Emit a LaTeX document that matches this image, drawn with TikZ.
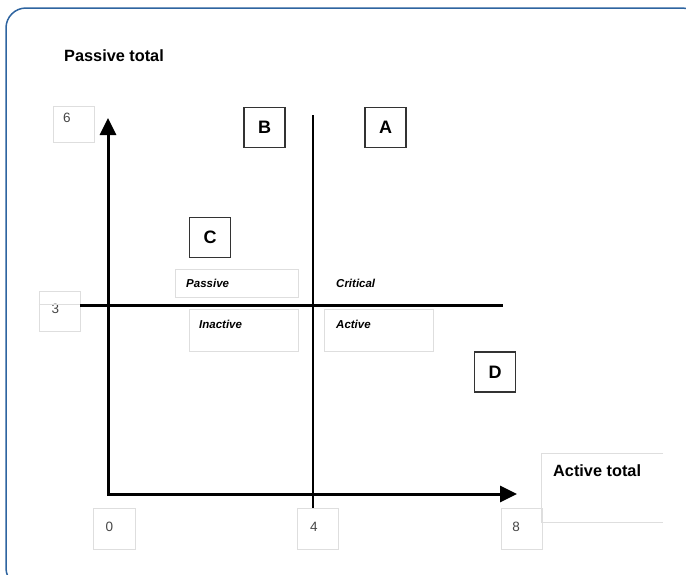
\documentclass[tikz,border=0pt]{standalone}
\usepackage{fontspec}
\setmainfont{Liberation Sans}
\usetikzlibrary{arrows.meta}
\definecolor{framecol}{RGB}{46,100,160}
\definecolor{boxgray}{RGB}{222,222,222}
\definecolor{numgray}{RGB}{70,70,70}
\begin{document}
\begin{tikzpicture}[x=1pt,y=-1pt,
  letterbox/.style={draw=black!80, line width=1.5pt, minimum width=41pt, minimum height=40pt, inner sep=0pt, font=\fontsize{18}{18}\selectfont\bfseries},
  lightbox/.style={draw=boxgray, line width=1pt, inner sep=0pt},
  numtext/.style={font=\fontsize{13.5}{13.5}\selectfont, text=numgray, inner sep=0pt},
  smalltext/.style={font=\fontsize{11.5}{11.5}\selectfont\bfseries\itshape, inner sep=0pt, anchor=west},
  titletext/.style={font=\fontsize{16.3}{16.3}\selectfont\bfseries, inner sep=0pt, anchor=west},
  axisline/.style={line width=3pt, line join=miter, {Triangle[length=17pt,width=16pt]}-{Triangle[length=17pt,width=16pt]}},
  divider/.style={line width=3pt},
]
\useasboundingbox (0,0) rectangle (686,574);
\clip (0,0) rectangle (686,574);
\fill[white] (0,0) rectangle (686,574);
% frame
\draw[framecol, line width=1.5pt, rounded corners=20pt] (6,8) rectangle (702,588);

% titles
\node[titletext] (ptot) at (64,56) {Passive total};

% number boxes
\node[lightbox, minimum width=41pt, minimum height=36pt] (b6) at (73.5,124) {};
\node[lightbox, minimum width=41pt, minimum height=40pt] (b3) at (59.5,311) {};
\node[lightbox, minimum width=42pt, minimum height=41pt] (b0) at (114,528.5) {};
\node[lightbox, minimum width=41pt, minimum height=41pt] (b4) at (317.5,528.5) {};
\node[lightbox, minimum width=41pt, minimum height=41pt] (b8) at (521.5,528.5) {};
\node[numtext] (t6) at (67,118) {6};
\node[numtext] (t3) at (55.5,309) {3};
\node[numtext] (t0) at (109.5,527) {0};
\node[numtext] (t4) at (314,527) {4};
\node[numtext] (t8) at (516,527) {8};
\draw[boxgray, line width=1pt] (b3.west |- 0,304) -- (b3.east |- 0,304);

% active total box (open on the right)
\node[minimum width=121pt, minimum height=68pt, inner sep=0pt] (atbox) at (602.5,488) {};
\draw[boxgray, line width=1pt] (atbox.north east) -- (atbox.north west) -- (atbox.south west) -- (atbox.south east);
\node[titletext] (atot) at (553,471) {Active total};

% quadrant label boxes
\node[lightbox, minimum width=123pt, minimum height=28pt] (pbox) at (236.5,283) {};
\node[lightbox, minimum width=109pt, minimum height=42pt] (ibox) at (243.5,330) {};
\node[lightbox, minimum width=109pt, minimum height=42pt] (abox) at (378.5,330) {};
\node[smalltext] (tpass) at (186,283) {Passive};
\node[smalltext] (tcrit) at (336,283) {Critical};
\node[smalltext] (tinac) at (199,324) {Inactive};
\node[smalltext] (tact) at (336,324) {Active};

% letter boxes
\node[letterbox] (B) at (264.5,127.5) {B};
\node[letterbox] (A) at (385.5,127.5) {A};
\node[letterbox] (C) at (210,237.5) {C};
\node[letterbox] (D) at (495,372) {D};

% axes
\coordinate (O) at (108,494);
\coordinate (ytip) at (108,118);
\coordinate (xtip) at (517,494);
\draw[axisline] (ytip) -- (O) -- (xtip);

% dividers
\coordinate (vtop) at (312.5,115);
\draw[line width=2pt] (vtop) -- (vtop |- b4.north);
\coordinate (hleft) at (80,305);
\coordinate (hright) at (503,305);
\draw[divider] (hleft) -- (hright);
\end{tikzpicture}
\end{document}
